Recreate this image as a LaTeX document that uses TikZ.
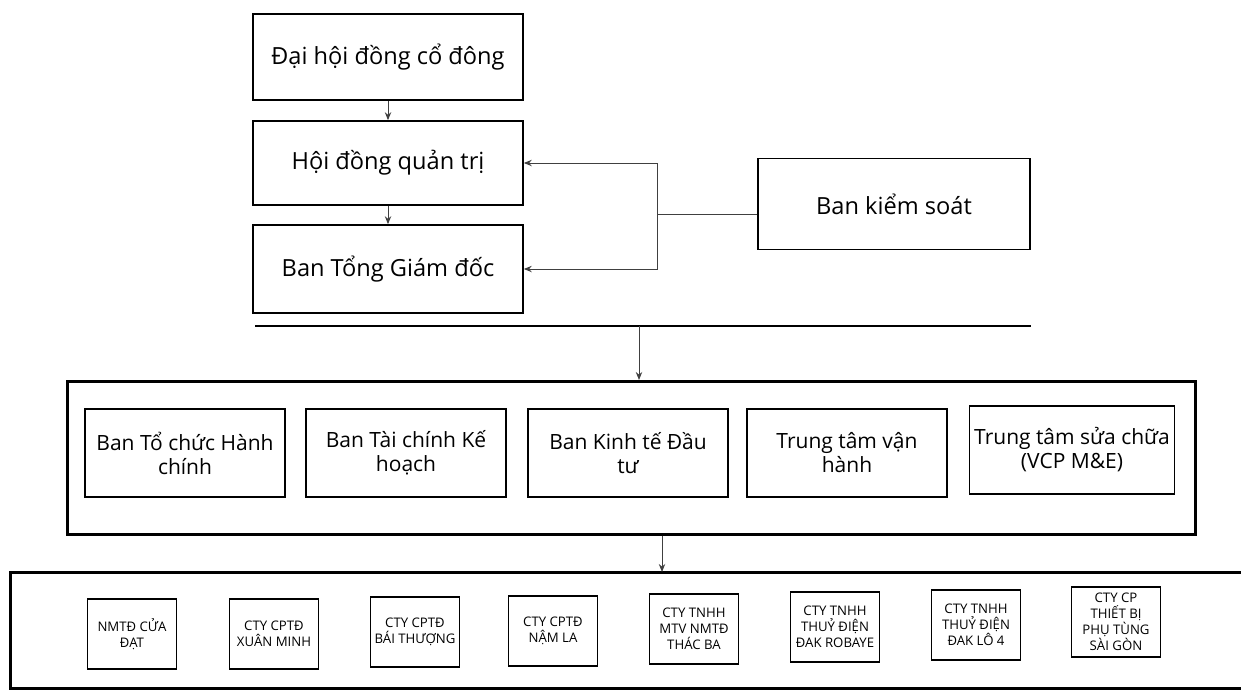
\documentclass[tikz,border=0pt]{standalone}
\usepackage{fontspec}
\setmainfont{Open Sans}
\usetikzlibrary{arrows.meta}

\tikzset{
  topbox/.style={draw, line width=0.8pt, minimum width=135pt, minimum height=43pt, inner sep=2pt, font=\fontsize{11.8}{14}\selectfont},
  midbox/.style={draw, line width=0.8pt, minimum width=100pt, minimum height=44pt, inner sep=2pt, align=center, font=\fontsize{10.5}{12}\selectfont},
  smallbox/.style={draw, line width=0.7pt, minimum width=44.5pt, minimum height=35pt, inner sep=1pt, align=center, font=\fontsize{6.6}{8}\selectfont},
  link/.style={draw=black!75, line width=0.5pt, -{Stealth[length=4pt,width=3.2pt]}},
}

\begin{document}
\begin{tikzpicture}[x=0.5pt, y=-0.5pt]
        \useasboundingbox (0,0) rectangle (1241,691);
        % top part
        \node[topbox] (dhdcd) at (388,57) {Đại hội đồng cổ đông};
        \node[topbox, minimum height=42pt] (hdqt) at (388,163) {Hội đồng quản trị};
        \node[topbox, minimum height=44pt] (tgd) at (388,269) {Ban Tổng Giám đốc};
        \node[topbox, minimum width=136pt, minimum height=45.5pt] (bks) at (894,204) {Ban kiểm soát};
        \coordinate (j) at (657,214);
        \draw[link] (dhdcd) -- (hdqt);
        \draw[link] (hdqt) -- (tgd);
        \draw[draw=black!75, line width=0.5pt] (bks.west |- j) -- (j);
        \draw[link] (j) |- (hdqt.east);
        \draw[link] (j) |- (tgd.east);
        % separator
        \coordinate (sepL) at (255,326);
        \coordinate (sepR) at (1031,326);
        \coordinate (sepA) at (639,326);
        \draw[line width=1.1pt] (sepL) -- (sepR);
        % departments
        \node[draw, line width=1.5pt, minimum width=564pt, minimum height=76.5pt, inner sep=0pt] (midframe) at (631,458) {};
        \draw[link] (sepA) -- (sepA |- midframe.north);
        \node[midbox] (tchc) at (185,453) {Ban Tổ chức Hành\\chính};
        \node[midbox] (tckh) at (406,453) {Ban Tài chính Kế\\hoạch};
        \node[midbox] (ktdt) at (628,453) {Ban Kinh tế Đầu\\tư};
        \node[midbox] (ttvh) at (847,453) {Trung tâm vận\\hành};
        \node[midbox, minimum width=102.5pt] (ttsc) at (1072,450) {Trung tâm sửa chữa\\(VCP M\&E)};
        % subsidiaries
        \coordinate (botTL) at (10,572);
        \coordinate (botTR) at (1241,572);
        \coordinate (botBL) at (10,688);
        \coordinate (botBR) at (1241,688);
        \coordinate (midA) at (662,0);
        \draw[line width=1.5pt] (botTR) -- (botTL) -- (botBL) -- (botBR);
        \draw[link] (midA |- midframe.south) -- (midA |- botTL);
        \node[smallbox] (cuadat) at (132,634) {NMTĐ CỬA\\ĐẠT};
        \node[smallbox] (xuanminh) at (274,634) {CTY CPTĐ\\XUÂN MINH};
        \node[smallbox] (baithuong) at (415,632) {CTY CPTĐ\\BÁI THƯỢNG};
        \node[smallbox] (namla) at (553,631) {CTY CPTĐ\\NẬM LA};
        \node[smallbox] (thacba) at (694,629) {CTY TNHH\\MTV NMTĐ\\THÁC BA};
        \node[smallbox] (robaye) at (835,627) {CTY TNHH\\THUỶ ĐIỆN\\ĐAK ROBAYE};
        \node[smallbox] (daklo) at (976,625) {CTY TNHH\\THUỶ ĐIỆN\\ĐAK LÔ 4};
        \node[smallbox] (saigon) at (1116,622) {CTY CP\\THIẾT BỊ\\PHỤ TÙNG\\SÀI GÒN};
    \end{tikzpicture}
\end{document}
